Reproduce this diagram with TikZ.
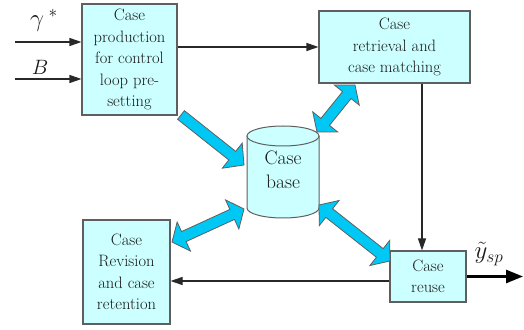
\documentclass[tikz,border=0pt]{standalone}
\usetikzlibrary{calc,arrows.meta}
\definecolor{boxfill}{RGB}{204,255,255}
\definecolor{arrfill}{RGB}{0,200,245}
\definecolor{edgec}{RGB}{95,95,95}
\definecolor{txt}{RGB}{25,25,25}
\definecolor{linec}{RGB}{40,40,40}
\newcommand\dblfat[2]{%
  \path ($(#1)!13pt!(#2)$) coordinate (fa) ($(#2)!13pt!(#1)$) coordinate (fb);
  \draw[fat] (#1) -- ($(fa)!16pt!90:(#2)$) -- ($(fa)!5.5pt!90:(#2)$) -- ($(fb)!5.5pt!-90:(#1)$) -- ($(fb)!16pt!-90:(#1)$) -- (#2) -- ($(fb)!16pt!90:(#1)$) -- ($(fb)!5.5pt!90:(#1)$) -- ($(fa)!5.5pt!-90:(#2)$) -- ($(fa)!16pt!-90:(#2)$) -- cycle;}
\newcommand\onefat[2]{%
  \path ($(#2)!15pt!(#1)$) coordinate (fb);
  \draw[fat] ($(#1)!5.5pt!90:(#2)$) -- ($(fb)!5.5pt!-90:(#1)$) -- ($(fb)!16pt!-90:(#1)$) -- (#2) -- ($(fb)!16pt!90:(#1)$) -- ($(fb)!5.5pt!90:(#1)$) -- ($(#1)!5.5pt!-90:(#2)$) -- cycle;}
\begin{document}
\begin{tikzpicture}[x=1pt,y=1pt,
  box/.style={draw=edgec, fill=boxfill, line width=1.1pt, align=center, text=txt,
    inner sep=0pt, font=\fontsize{16.5}{21.5}\selectfont},
  fat/.style={draw=edgec, fill=arrfill, line width=0.8pt, line join=miter},
  conn/.style={draw=linec, line width=1.1pt, -{Triangle[length=12pt,width=8pt]}},
  lbl/.style={text=txt, inner sep=0pt, font=\fontsize{20}{20}\selectfont}]
\useasboundingbox (0,0) rectangle (524,329);

% boxes
\node[box, minimum width=95pt, minimum height=111pt] (p) at (129.5,269.5)
  {Case\\production\\for control\\loop pre-\\setting};
\node[box, minimum width=151pt, minimum height=72pt] (r) at (394.5,282)
  {Case\\retrieval and\\case matching};
\node[box, minimum width=87pt, minimum height=104pt] (v) at (126.5,57)
  {Case\\Revision\\and case\\retention};
\node[box, minimum width=76pt, minimum height=51pt] (u) at (428,52.5)
  {Case\\reuse};

% cylinder
\node[minimum width=72pt, minimum height=92pt, inner sep=0pt] (cb) at (283,157) {};
\filldraw[draw=edgec, fill=boxfill, line width=1pt]
  (247,193) -- (247,121) arc[start angle=180, end angle=360, x radius=36, y radius=10] -- (319,193);
\filldraw[draw=edgec, fill=boxfill, line width=1pt] (283,193) ellipse [x radius=36, y radius=10];
\node[box, draw=none, fill=none, font=\fontsize{19.5}{23.5}\selectfont] (cbt) at (283,159) {Case\\base};

% inputs
\coordinate (gin) at (15,287);
\coordinate (bin) at (15,250);
\draw[conn] (gin) -- (gin -| p.west);
\draw[conn] (bin) -- (bin -| p.west);
\node[lbl, font=\fontsize{23}{23}\selectfont] (gl) at (37,305) {$\gamma$};
\node[lbl, font=\fontsize{16}{16}\selectfont] (gs) at (53,316) {$*$};
\node[lbl] (bl) at (40,262) {$B$};

% thin connectors
\draw[conn] (p.east |- r.west) -- (r.west);
\draw[conn] ([xshift=-6pt]u.north |- r.south) -- ([xshift=-6pt]u.north);
\draw[conn] ([yshift=-4.5pt]u.west) -- ([yshift=-4.5pt]u.west -| v.east);

% output
\coordinate (out) at (523,52.5);
\draw[draw=black, line width=2.6pt, -{Triangle[length=17pt,width=13pt]}] (u.east) -- (out);
\node[lbl, font=\fontsize{23}{23}\selectfont] (yl) at (489,75) {$\tilde{y}_{sp}$};

% fat arrows
\coordinate (a1) at (181,214);
\coordinate (a1e) at (244,164);
\coordinate (a2s) at (317,197);
\coordinate (a2e) at (355,244);
\coordinate (a3s) at (172,87);
\coordinate (a3e) at (244,120);
\coordinate (a4s) at (319,124);
\coordinate (a4e) at (390,68);
\onefat{a1}{a1e}
\dblfat{a2s}{a2e}
\dblfat{a3s}{a3e}
\dblfat{a4s}{a4e}
\end{tikzpicture}
\end{document}
